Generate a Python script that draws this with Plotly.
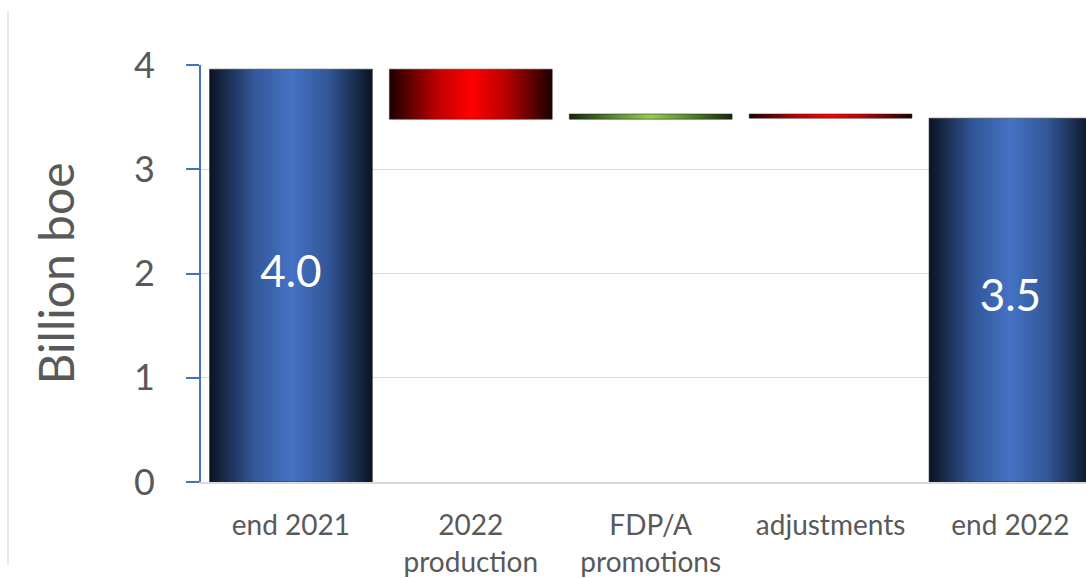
import plotly.graph_objects as go

# Reserve bridge, billion boe
categories = ["end 2021", "2022<br>production", "FDP/A<br>promotions", "adjustments", "end 2022"]
start_total = 3.96
changes = [-0.48, 0.05, -0.04]

BAR_WIDTH = 0.905
FONT = "Lato"
GREY_TEXT = "#595959"

blue_scale = [[0, "#0b1322"], [0.28, "#33589a"], [0.5, "#4472C4"], [0.72, "#33589a"], [1, "#0b1322"]]
red_scale = [[0, "#1c0000"], [0.3, "#c00000"], [0.5, "#FF0000"], [0.7, "#c00000"], [1, "#1c0000"]]
green_scale = [[0, "#16240a"], [0.3, "#5f9433"], [0.5, "#92D050"], [0.7, "#5f9433"], [1, "#16240a"]]

# running totals -> (base, top, colorscale) per category
segments = [(0.0, start_total, blue_scale)]
level = start_total
for d in changes:
    new_level = level + d
    segments.append((min(level, new_level), max(level, new_level), green_scale if d > 0 else red_scale))
    level = new_level
end_total = level
segments.append((0.0, end_total, blue_scale))

fig = go.Figure()

for i, (lo, hi, scale) in enumerate(segments):
    x0, x1 = i - BAR_WIDTH / 2, i + BAR_WIDTH / 2
    fig.add_trace(go.Scatter(
        x=[x0, x1, x1, x0, x0],
        y=[lo, lo, hi, hi, lo],
        mode="lines",
        fill="toself",
        fillgradient=dict(type="horizontal", colorscale=scale),
        line=dict(color="rgba(40,40,40,0.55)", width=1),
        hoverinfo="skip",
        showlegend=False,
    ))

# value labels inside the total bars
totals = [start_total, end_total]
total_pos = [0, len(categories) - 1]
fig.add_trace(go.Scatter(
    x=total_pos,
    y=[t / 2 for t in totals],
    mode="text",
    text=[f"{t:.1f}" for t in totals],
    textposition="middle center",
    textfont=dict(family=FONT, size=44, color="white"),
    hoverinfo="skip",
    showlegend=False,
))

fig.update_layout(
    width=1086,
    height=578,
    autosize=False,
    margin=dict(l=201, r=0, t=65, b=93),
    paper_bgcolor="white",
    plot_bgcolor="white",
    font=dict(family=FONT, color=GREY_TEXT),
    xaxis=dict(
        range=[-0.5, 4.42],
        tickmode="array",
        tickvals=list(range(len(categories))),
        ticktext=categories,
        tickfont=dict(size=28, color=GREY_TEXT),
        showgrid=False,
        zeroline=False,
        showline=True,
        linecolor="#d9d9d9",
        linewidth=1.5,
        ticks="",
        ticklabelstandoff=18,
    ),
    yaxis=dict(
        range=[0, 4],
        tickvals=[0, 1, 2, 3, 4],
        tickfont=dict(size=36, color=GREY_TEXT),
        showgrid=True,
        gridcolor="#d9d9d9",
        gridwidth=1.3,
        zeroline=False,
        showline=True,
        linecolor="#4472C4",
        linewidth=2,
        ticks="outside",
        ticklen=13,
        tickwidth=2,
        tickcolor="#4472C4",
        ticklabelstandoff=24,
        title=dict(text="Billion boe", font=dict(size=48, color=GREY_TEXT), standoff=44),
    ),
    shapes=[dict(
        type="line", xref="paper", yref="paper",
        x0=-193 / 885, x1=-193 / 885, y0=-0.2, y1=1.13,
        line=dict(color="#e0e0e0", width=1.5),
    )],
)

fig.write_html("out.html")
